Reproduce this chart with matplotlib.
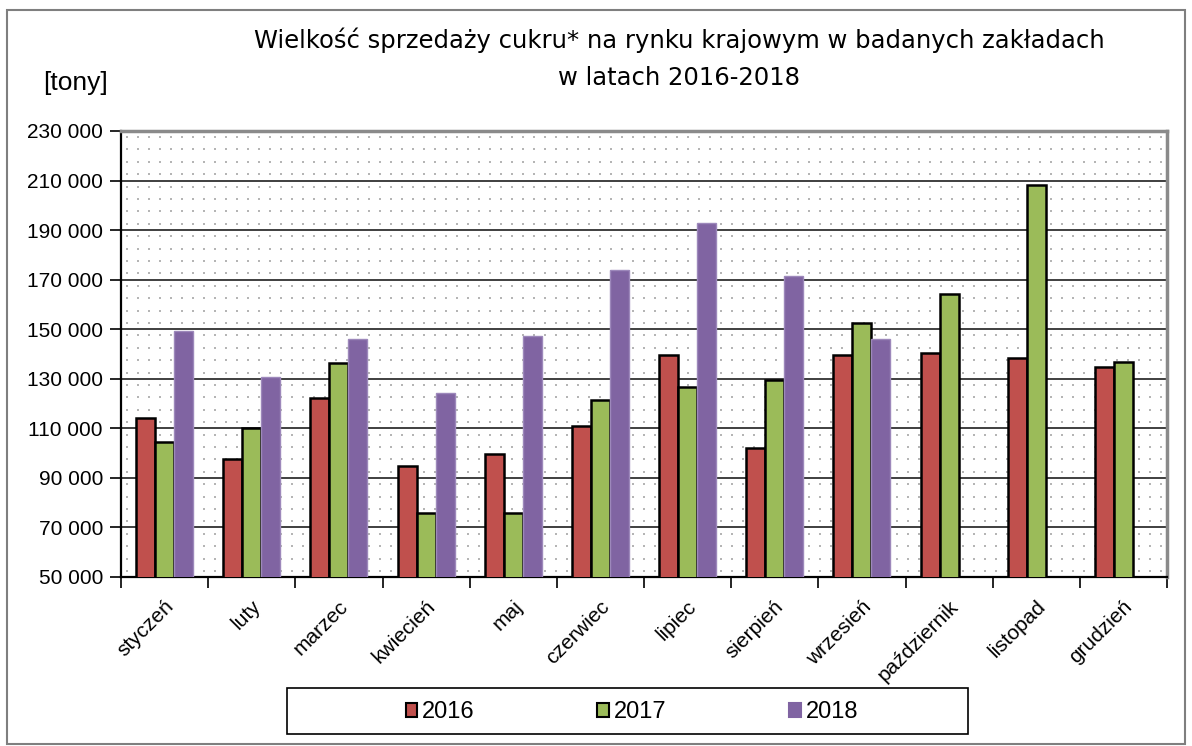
import numpy as np
import matplotlib.pyplot as plt
from matplotlib.patches import Rectangle, Patch
from matplotlib.transforms import ScaledTranslation

# data (tonnes)
months = ['styczeń', 'luty', 'marzec', 'kwiecień', 'maj', 'czerwiec', 'lipiec',
          'sierpień', 'wrzesień', 'październik', 'listopad', 'grudzień']
years = ['2016', '2017', '2018']
sales_2016 = [114000, 97800, 122300, 94800, 99700, 111000, 139600,
              101900, 139700, 140400, 138300, 134900]
sales_2017 = [104400, 110200, 136300, 75800, 75800, 121400, 126500,
              129600, 152400, 164200, 208400, 136600]
sales_2018 = [149300, 130900, 146000, 124200, 147400, 173700, 192700,
              171300, 146200, np.nan, np.nan, np.nan]
y_ticks = list(range(50000, 230001, 20000))

colors = ['#C0504D', '#9BBB59', '#8064A2']
edges = ['black', 'black', '#9d88bb']

plt.rcParams['font.family'] = ['Liberation Sans', 'DejaVu Sans']

W, H = 1192, 746
fig = plt.figure(figsize=(W / 100, H / 100), dpi=100)

# outer frame of the chart
fig.patches.append(Rectangle((7 / W, 2 / H), 1178 / W, 734 / H, transform=fig.transFigure,
                             fill=False, edgecolor='#7f7f7f', lw=1.5))

ax = fig.add_axes([121 / W, 1 - 577 / H, (1167 - 121) / W, (577 - 131) / H])

# dotted background of the plot area
gx, gy = np.meshgrid(np.arange(6, 1046, 11.0), np.arange(6, 446, 12.4))
ax.scatter(gx.ravel() / 1046, gy.ravel() / 446, transform=ax.transAxes, marker='s',
           s=2.2, color='#b5b5b5', linewidths=0, zorder=0.2)

x = np.arange(len(months))
w = 0.218
series = [sales_2016, sales_2017, sales_2018]
for i, vals in enumerate(series):
    ax.bar(x + (i - 1) * w, vals, width=w, color=colors[i], edgecolor=edges[i],
           linewidth=1.8 if i < 2 else 1.0, zorder=3)

ax.set_xlim(-0.5, 11.5)
ax.set_ylim(50000, 230000)
ax.set_yticks(y_ticks)
ax.set_yticklabels([f'{v:,}'.replace(',', ' ') for v in y_ticks], fontsize=15)
ax.yaxis.grid(True, color='#3f3f3f', lw=1.4)
ax.set_axisbelow(True)

ax.set_xticks(np.arange(-0.5, 12, 1))
ax.set_xticklabels([])
ax.set_xticks(x, minor=True)
ax.set_xticklabels(months, minor=True, rotation=45, ha='right', va='center',
                   rotation_mode='anchor', fontsize=15)
ax.tick_params(axis='x', which='minor', length=0, pad=19)
ax.tick_params(axis='x', which='major', length=8, width=1.2)
ax.tick_params(axis='y', length=8, width=1.2, pad=5)
shift = ScaledTranslation(6 / 100, 0, fig.dpi_scale_trans)
for lab in ax.get_xticklabels(minor=True):
    lab.set_transform(lab.get_transform() + shift)

for s in ['left', 'bottom']:
    ax.spines[s].set_color('black')
    ax.spines[s].set_linewidth(1.6)
for s in ['top', 'right']:
    ax.spines[s].set_color('#8a8a8a')
    ax.spines[s].set_linewidth(2.5)

# titles
fig.text(679 / W, 1 - 40 / H, 'Wielkość sprzedaży cukru* na rynku krajowym w badanych zakładach',
         ha='center', va='center', fontsize=17.5, family=['DejaVu Sans'])
fig.text(679 / W, 1 - 78 / H, 'w latach 2016-2018',
         ha='center', va='center', fontsize=17.5, family=['DejaVu Sans'])
fig.text(75 / W, 1 - 83 / H, '[tony]', ha='center', va='center', fontsize=19)

# legend with its own box
fig.patches.append(Rectangle((287 / W, 1 - 734 / H), (968 - 287) / W, 46 / H,
                             transform=fig.transFigure, fill=False, edgecolor='black', lw=1.2))
handles = [Patch(facecolor=colors[i], edgecolor='black' if i < 2 else colors[i],
                 linewidth=1.5) for i in range(3)]
fig.legend(handles, years, loc='center', bbox_to_anchor=(632 / W, 1 - 712 / H),
           ncol=3, frameon=False, fontsize=17, handlelength=0.5, handleheight=0.55,
           handletextpad=0.2, columnspacing=5.2)

fig.savefig('out.png', dpi=100)
